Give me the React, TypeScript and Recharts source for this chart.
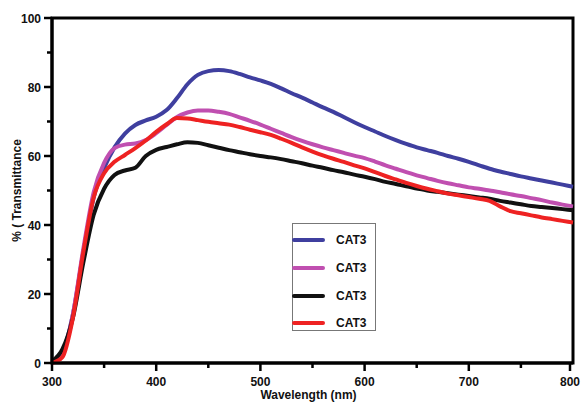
import { LineChart, Line, XAxis, YAxis, ReferenceArea } from 'recharts'

const wavelengths = [
  300, 310, 320, 330, 340, 350, 360, 370, 380, 390, 400, 410, 420, 430, 440, 450, 460,
  470, 480, 490, 500, 510, 520, 530, 540, 550, 560, 570, 580, 590, 600, 610, 620, 630,
  640, 650, 660, 670, 680, 690, 700, 710, 720, 730, 740, 750, 760, 770, 780, 790, 800,
]

const blue = [
  0, 3, 14, 32, 48, 56.5, 62.5, 66.5, 69, 70.3, 71.4, 73.3, 76.8, 80.8, 83.5, 84.6, 84.9,
  84.6, 83.8, 82.8, 81.9, 80.9, 79.6, 78.2, 76.9, 75.5, 74.1, 72.8, 71.3, 69.8, 68.4, 67.1, 65.8, 64.6,
  63.5, 62.5, 61.7, 60.9, 60, 59.2, 58.3, 57.3, 56.3, 55.5, 54.8, 54.1, 53.5, 52.9, 52.3, 51.7, 51.1,
]

const magenta = [
  0, 2.5, 14, 33, 49.5, 58, 62.3, 63.3, 63.6, 64.6, 66.6, 69, 71.3, 72.6, 73.2, 73.2, 72.8,
  72.2, 71.2, 70.2, 69.1, 67.9, 66.7, 65.5, 64.4, 63.4, 62.5, 61.7, 60.9, 60.1, 59.4, 58.4, 57.3, 56.3,
  55.3, 54.4, 53.6, 52.8, 52.1, 51.5, 50.9, 50.5, 50, 49.5, 48.9, 48.4, 47.8, 47.2, 46.5, 45.9, 45.4,
]

const black = [
  0.5, 4, 13, 29, 43, 50.5, 54.5, 55.8, 56.6, 60, 61.8, 62.6, 63.4, 64, 63.8, 63.1, 62.4,
  61.7, 61.1, 60.5, 60, 59.6, 59.1, 58.5, 57.9, 57.2, 56.6, 55.9, 55.3, 54.6, 54, 53.3, 52.5, 51.9,
  51.2, 50.6, 50, 49.6, 49.2, 48.8, 48.4, 48, 47.6, 47, 46.5, 46, 45.5, 45.2, 44.9, 44.6, 44.3,
]

const red = [
  0, 1.7, 13, 32, 48, 55, 58.3, 60.3, 62.3, 64.5, 67, 69.2, 71, 70.9, 70.4, 69.9, 69.5,
  69.1, 68.4, 67.6, 66.9, 66.1, 65, 63.8, 62.5, 61.3, 60.2, 59.2, 58.3, 57.3, 56.4, 55.3, 54.2, 53.2,
  52.2, 51.3, 50.5, 49.8, 49.1, 48.6, 48.1, 47.6, 47, 45.4, 44, 43.4, 42.8, 42.2, 41.7, 41.2, 40.7,
]

const xTicks = [300, 350, 400, 450, 500, 550, 600, 650, 700, 750, 800]
const yTicks = [0, 10, 20, 30, 40, 50, 60, 70, 80, 90, 100]

const series = [
  { key: 'blue', name: 'CAT3', color: '#3f3f9f' },
  { key: 'magenta', name: 'CAT3', color: '#c04fb0' },
  { key: 'black', name: 'CAT3', color: '#111111' },
  { key: 'red', name: 'CAT3', color: '#ee2222' },
]

const data = wavelengths.map((w, i) => ({
  w, blue: blue[i], magenta: magenta[i], black: black[i], red: red[i],
}))

const FONT = '"Liberation Sans", Arial, sans-serif'

function XTick({ x, y, payload }: any) {
  const major = payload.value % 100 === 0
  return (
    <g>
      <line x1={x} y1={y} x2={x} y2={y + (major ? 8 : 5)} stroke="#000" strokeWidth={2.5} />
      {major && (
        <text x={x} y={y + 23} textAnchor="middle" fontFamily={FONT} fontWeight="bold" fontSize={12} fill="#111">
          {payload.value}
        </text>
      )}
    </g>
  )
}

function YTick({ x, y, payload }: any) {
  const major = payload.value % 20 === 0
  return (
    <g>
      <line x1={x} y1={y} x2={x - (major ? 8 : 5)} y2={y} stroke="#000" strokeWidth={2.5} />
      {major && (
        <text x={x - 11} y={y + 4.5} textAnchor="end" fontFamily={FONT} fontWeight="bold" fontSize={12} fill="#111">
          {payload.value}
        </text>
      )}
    </g>
  )
}

function YTitle({ viewBox }: any) {
  const cx = viewBox.x + 17
  const cy = viewBox.y + viewBox.height / 2
  return (
    <text x={cx} y={cy} transform={`rotate(-90 ${cx} ${cy})`} textAnchor="middle" dominantBaseline="central"
      fontFamily={FONT} fontWeight="bold" fontSize={12} fill="#111">
      % ( Transmittance
    </text>
  )
}

function XTitle({ viewBox }: any) {
  return (
    <text x={viewBox.x + viewBox.width / 2 - 4} y={viewBox.y + 36} textAnchor="middle"
      fontFamily={FONT} fontWeight="bold" fontSize={12} fill="#111">
      Wavelength (nm)
    </text>
  )
}

function LegendBox() {
  return (
    <div style={{ position: 'absolute', left: 292, top: 223, width: 84, height: 108, border: '1px solid #777', boxSizing: 'border-box', background: '#fff' }}>
      {series.map((s, i) => (
        <div key={s.key} style={{ position: 'absolute', left: -1, top: 13 + i * 27.8, height: 6, display: 'flex', alignItems: 'center' }}>
          <div style={{ width: 33, height: 4, borderRadius: 2, background: s.color }} />
          <span style={{ marginLeft: 11, fontFamily: FONT, fontWeight: 'bold', fontSize: 12, color: '#111' }}>{s.name}</span>
        </div>
      ))}
    </div>
  )
}

export default function App() {
  return (
    <div style={{ position: 'absolute', left: 0, top: 0, width: 582, height: 402, background: '#fff' }}>
      <LineChart width={582} height={402} data={data} margin={{ top: 18, right: 9, left: 0, bottom: 0 }}>
        <ReferenceArea x1={300} x2={800} y1={0} y2={100} fill="none" stroke="#000" strokeWidth={3} />
        <XAxis dataKey="w" type="number" domain={[300, 800]} ticks={xTicks} height={39}
          axisLine={{ stroke: '#000', strokeWidth: 3 }} tickLine={false} tickSize={0} tickMargin={0}
          tick={<XTick />} label={<XTitle />} />
        <YAxis type="number" domain={[0, 100]} ticks={yTicks} width={52}
          axisLine={{ stroke: '#000', strokeWidth: 3 }} tickLine={false} tickSize={0} tickMargin={0}
          tick={<YTick />} label={<YTitle />} />
        {series.map(s => (
          <Line key={s.key} type="monotone" dataKey={s.key} name={s.name} stroke={s.color}
            strokeWidth={4} dot={false} isAnimationActive={false} />
        ))}
      </LineChart>
      <LegendBox />
    </div>
  )
}
